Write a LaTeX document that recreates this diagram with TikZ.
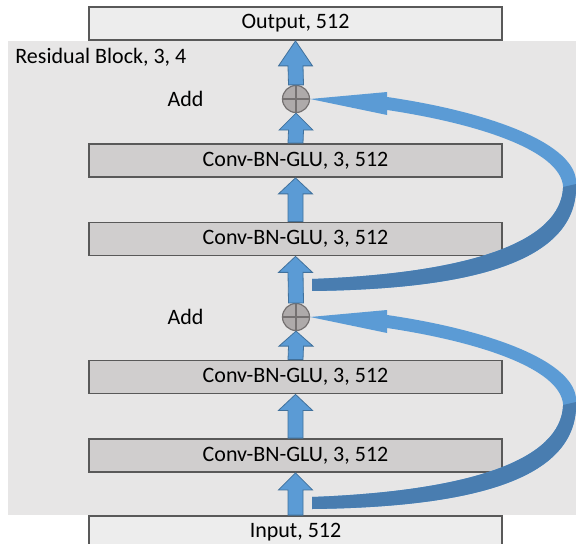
\documentclass[tikz,border=0pt]{standalone}
\usepackage{fontspec}
\setmainfont{Carlito}
\usetikzlibrary{arrows,positioning,calc}
\definecolor{bgblock}{RGB}{231,230,230}
\definecolor{convgray}{RGB}{208,206,206}
\definecolor{iogray}{RGB}{237,237,237}
\definecolor{boxline}{RGB}{89,89,89}
\definecolor{arrowblue}{RGB}{91,155,213}
\definecolor{arrowedge}{RGB}{65,113,156}
\definecolor{arrowdark}{RGB}{73,125,176}
\definecolor{addfill}{RGB}{174,170,170}
\definecolor{addline}{RGB}{117,113,113}

\tikzset{
  layerbox/.style={draw=boxline, line width=0.9pt, fill=convgray, minimum width=206.5pt, minimum height=16.5pt, inner sep=0pt},
  iobox/.style={layerbox, fill=iogray},
  addop/.style={circle, draw=addline, line width=0.6pt, fill=addfill, minimum size=13.5pt, inner sep=0pt,
    path picture={\draw[addline, line width=0.6pt] (path picture bounding box.north) -- (path picture bounding box.south) (path picture bounding box.west) -- (path picture bounding box.east);}},
  blockarr/.style={fill=arrowblue, draw=arrowedge, line width=0.4pt, line join=miter},
}

% block arrow: tail anchor, tip anchor, head length
\newcommand{\uparr}[3]{\draw[blockarr] ($(#1)+(-7.5,0)$) -- ($(#2)+(-7.5,#3)$) -- ($(#2)+(-17,#3)$) -- (#2) -- ($(#2)+(17,#3)$) -- ($(#2)+(7.5,#3)$) -- ($(#1)+(7.5,0)$) -- cycle;}

% curved skip arrow ending at the east side of an add node
\newcommand{\skiparr}[1]{\begin{scope}[shift={(#1.east)}]
  \fill[arrowblue] (77,-2) .. controls (180,13) and (268,45) .. (266,85) .. controls (268,160) and (170,190) .. (2,192) -- (2,180) .. controls (160,174) and (251,143) .. (253,88) .. controls (251,52) and (170,25) .. (77,11) -- (77,16) -- (0,0) -- (77,-7) -- cycle;
  \fill[arrowdark] (266,85) .. controls (268,160) and (170,190) .. (2,192) -- (2,180) .. controls (160,174) and (251,143) .. (253,88) -- cycle;
\end{scope}}

\begin{document}
\begin{tikzpicture}[x=0.5pt, y=-0.5pt, every node/.style={font=\fontsize{11}{13}\selectfont}]
  \useasboundingbox (0,0) rectangle (576,544);
  \clip (0,0) rectangle (576,544);
  \fill[bgblock] (8,41) rectangle (580,515);
  \node[anchor=west, inner sep=0pt] (blocklbl) at (15,57) {Residual Block, 3, 4};

  \node[iobox] (outp) at (295.5,23.5) {Output, 512};
  \node[addop] (add1) at (296,99) {};
  \node[layerbox] (conv1) at (295.5,160.5) {Conv-BN-GLU, 3, 512};
  \node[layerbox] (conv2) at (295.5,239) {Conv-BN-GLU, 3, 512};
  \node[addop] (add2) at (296,317) {};
  \node[layerbox] (conv3) at (295.5,377) {Conv-BN-GLU, 3, 512};
  \node[layerbox] (conv4) at (295.5,455.5) {Conv-BN-GLU, 3, 512};
  \node[iobox] (inp) at (295.5,532.5) {Input, 512};

  \node[left=39pt of add1, inner sep=0pt] (addlbl1) {Add};
  \node[left=39pt of add2, inner sep=0pt] (addlbl2) {Add};

  % main path
  \uparr{inp.north}{conv4.south}{17}
  \uparr{conv4.north}{conv3.south}{16}
  \uparr{conv3.north}{add2.south}{15}
  \uparr{add2.north}{conv2.south}{16}
  \uparr{conv2.north}{conv1.south}{16}
  \uparr{conv1.north}{add1.south}{17}
  \uparr{add1.north}{outp.south}{25}

  % skip connections
  \skiparr{add1}
  \skiparr{add2}
\end{tikzpicture}
\end{document}
